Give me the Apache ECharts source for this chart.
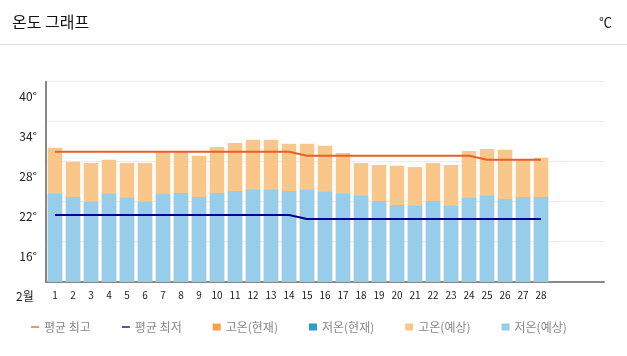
<!DOCTYPE html>
<html>
<head>
<meta charset="utf-8">
<script src="https://cdn.jsdelivr.net/npm/echarts@6/dist/echarts.min.js"></script>
<style>
html,body{margin:0;padding:0;background:#fff;}
#c{width:627px;height:356px;}
</style>
</head>
<body>
<div id="c"></div>
<script>
const days = ['1','2','3','4','5','6','7','8','9','10','11','12','13','14','15','16','17','18','19','20','21','22','23','24','25','26','27','28'];
const padDays = ['', '', ''];
const yTicks = [10, 16, 22, 28, 34, 40];
const avgMax = [29.5,29.5,29.5,29.5,29.5,29.5,29.5,29.5,29.5,29.5,29.5,29.5,29.5,29.5,28.9,28.9,28.9,28.9,28.9,28.9,28.9,28.9,28.9,28.9,28.3,28.3,28.3,28.3];
const avgMin = [20.0,20.0,20.0,20.0,20.0,20.0,20.0,20.0,20.0,20.0,20.0,20.0,20.0,20.0,19.4,19.4,19.4,19.4,19.4,19.4,19.4,19.4,19.4,19.4,19.4,19.4,19.4,19.4];
const highNow = [];
const lowNow = [];
const highFc = [30.1,28.0,27.8,28.3,27.8,27.8,29.5,29.5,28.9,30.2,30.8,31.3,31.3,30.7,30.7,30.4,29.3,27.8,27.5,27.4,27.2,27.8,27.5,29.6,29.9,29.8,28.4,28.6];
const lowFc = [23.2,22.7,22.0,23.2,22.6,22.0,23.2,23.3,22.7,23.3,23.6,23.8,23.8,23.6,23.8,23.5,23.2,22.9,22.1,21.5,21.4,22.1,21.4,22.6,22.9,22.4,22.7,22.7];

const cats = days.concat(padDays);
const font = "'Noto Sans CJK KR', 'Noto Sans', sans-serif";
const linePath = 'path://M0,4L12,4L12,6L0,6Z';

const chart = echarts.init(document.getElementById('c'));
chart.setOption({
  animation: false,
  textStyle: { fontFamily: font },
  title: [
    { text: '온도 그래프', left: 7, top: 9, textStyle: { fontSize: 16, fontWeight: 'normal', color: '#111', fontFamily: font } },
    { text: '℃', right: 10, top: 11, textStyle: { fontSize: 13, fontWeight: 'normal', color: '#111', fontFamily: font } },
    { text: '2월', left: 11, top: 285, textStyle: { fontSize: 12, fontWeight: 'normal', color: '#222', fontFamily: font } }
  ],
  graphic: [
    { type: 'line', shape: { x1: 0, y1: 44.5, x2: 627, y2: 44.5 }, style: { stroke: '#dddddd', lineWidth: 1 } }
  ],
  legend: {
    left: 26, top: 316, itemWidth: 8, itemHeight: 7, itemGap: 31,
    textStyle: { color: '#888', fontSize: 12, fontFamily: font },
    data: [
      { name: '평균 최고', icon: linePath },
      { name: '평균 최저', icon: linePath },
      { name: '고온(현재)', icon: 'rect' },
      { name: '저온(현재)', icon: 'rect' },
      { name: '고온(예상)', icon: 'rect' },
      { name: '저온(예상)', icon: 'rect' }
    ]
  },
  grid: { left: 46, right: 23, top: 81.7, bottom: 74.3, containLabel: false },
  xAxis: {
    type: 'category', data: cats, boundaryGap: true,
    axisLine: { lineStyle: { color: '#888', width: 2 } },
    axisTick: { show: false },
    axisLabel: { color: '#222', fontSize: 10, margin: 9, interval: 0, fontFamily: font }
  },
  yAxis: {
    type: 'value', min: yTicks[0], max: yTicks[yTicks.length - 1], interval: 6,
    axisLine: { show: true, lineStyle: { color: '#888', width: 2 } },
    axisTick: { show: false },
    splitLine: { lineStyle: { color: '#ececec' } },
    axisLabel: {
      color: '#222', fontSize: 12, margin: 9, verticalAlign: 'top', padding: [9, 0, 0, 0],
      showMinLabel: false, fontFamily: font,
      formatter: v => v + '°'
    }
  },
  series: [
    { name: '고온(현재)', type: 'bar', data: highNow, itemStyle: { color: '#F5A04A' }, barWidth: 14.5, barGap: '-100%' },
    { name: '저온(현재)', type: 'bar', data: lowNow, itemStyle: { color: '#2E9ACD' }, barWidth: 14.5, barGap: '-100%' },
    { name: '고온(예상)', type: 'bar', data: highFc, itemStyle: { color: '#F9C78A' }, barWidth: 14.5, barGap: '-100%' },
    { name: '저온(예상)', type: 'bar', data: lowFc, itemStyle: { color: '#95CDEA' }, barWidth: 14.5, barGap: '-100%' },
    { name: '평균 최고', type: 'line', data: avgMax, symbol: 'none', itemStyle: { color: '#E2622A' }, lineStyle: { color: '#E2622A', width: 2 }, z: 5 },
    { name: '평균 최저', type: 'line', data: avgMin, symbol: 'none', itemStyle: { color: '#00008B' }, lineStyle: { color: '#00008B', width: 2 }, z: 5 }
  ]
});
</script>
</body>
</html>
